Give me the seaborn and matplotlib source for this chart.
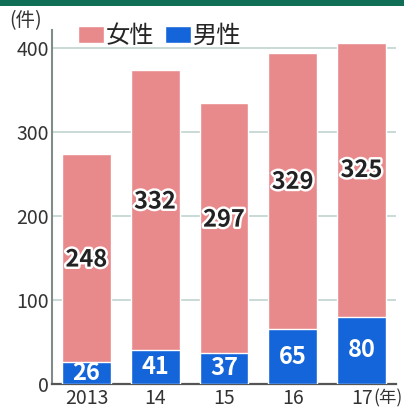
import matplotlib
matplotlib.use("Agg")
import matplotlib.pyplot as plt
import matplotlib.patheffects as pe
from matplotlib.patches import Rectangle, Patch
import seaborn as sns
import pandas as pd

years = ["2013", "14", "15", "16", "17"]
female = [248, 332, 297, 329, 325]
male = [26, 41, 37, 65, 80]

PINK = "#E88A8C"
BLUE = "#1565DA"
GREEN = "#0F6E55"
GRID = "#BFD3CF"
# vertical nudges (data units) of the female labels from segment centre
label_nudge = [-2, 10, 10, 11, 12]

sns.set_theme(style="white")
plt.rcParams["font.family"] = ["Noto Sans CJK JP", "DejaVu Sans"]

df = pd.DataFrame({"year": years, "female": female, "male": male})
df["total"] = df["female"] + df["male"]

fig = plt.figure(figsize=(4.04, 4.08), dpi=100)
ax = fig.add_axes([52 / 404, 1 - 384 / 408, (396 - 52) / 404, (384 - 30) / 408])

sns.barplot(data=df, x="year", y="total", color=PINK, saturation=1, width=0.71, ax=ax, zorder=2)
sns.barplot(data=df, x="year", y="male", color=BLUE, saturation=1, width=0.71, ax=ax, zorder=3)

ax.set_ylim(0, 421)
ax.set_xlim(-0.5, 4.5)
ax.set_yticks([0, 100, 200, 300, 400])
ax.yaxis.grid(True, color=GRID, linewidth=1.2, zorder=0)
ax.set_axisbelow(True)
ax.set_xlabel("")
ax.set_ylabel("")
for s in ["top", "right"]:
    ax.spines[s].set_visible(False)
ax.spines["left"].set_color("#7F8C8A")
ax.spines["left"].set_linewidth(1.5)
ax.spines["bottom"].set_color("#555555")
ax.spines["bottom"].set_linewidth(1.6)
ax.tick_params(axis="both", length=0, labelsize=14, colors="#333333")
ax.tick_params(axis="y", pad=2)
ax.tick_params(axis="x", pad=3)

for i in range(len(years)):
    m, f = male[i], female[i]
    ax.text(i, m + f / 2 + label_nudge[i], str(f), ha="center", va="center", fontsize=17,
            fontweight="semibold", color="#222222",
            path_effects=[pe.withStroke(linewidth=3.5, foreground="white")], zorder=5)
    ax.text(i, m / 2, str(m), ha="center", va="center", fontsize=17,
            fontweight="semibold", color="white", zorder=5)

fig.text(9 / 404, 1 - 21 / 408, "(件)", fontsize=14, color="#333333", ha="left", va="center")
fig.text(373 / 404, 1 - 398 / 408, "(年)", fontsize=12.5, color="#333333", ha="left", va="center")

handles = [Patch(facecolor=PINK, label="女性"), Patch(facecolor=BLUE, label="男性")]
fig.legend(handles=handles, loc="center left", bbox_to_anchor=(78 / 404, 1 - 36 / 408),
           ncol=2, frameon=False, fontsize=17.5, handlelength=1.05, handleheight=0.75,
           handletextpad=0.1, columnspacing=0.45, borderaxespad=0, borderpad=0)

fig.patches.append(Rectangle((0, 1 - 6 / 408), 1, 6 / 408, transform=fig.transFigure,
                             facecolor=GREEN, edgecolor="none"))

fig.savefig("out.png", dpi=100)
